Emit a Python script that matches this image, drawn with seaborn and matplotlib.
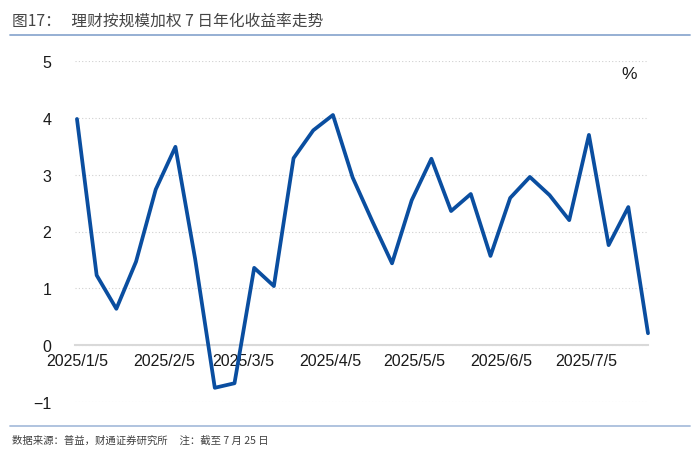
import numpy as np
import pandas as pd
import seaborn as sns
import matplotlib
matplotlib.use("Agg")
import matplotlib.pyplot as plt
from matplotlib.lines import Line2D

# weekly 7-day annualised yield (%), weighted by scale
start_date = "2025-01-05"
n_weeks = 30
yields = [3.98, 1.23, 0.64, 1.47, 2.74, 3.49, 1.52, -0.75, -0.67, 1.36,
          1.04, 3.29, 3.78, 4.05, 2.95, 2.18, 1.44, 2.55, 3.28, 2.36,
          2.66, 1.57, 2.59, 2.96, 2.64, 2.20, 3.70, 1.76, 2.43, 0.21]
tick_dates = ["2025-01-05", "2025-02-05", "2025-03-05", "2025-04-05",
              "2025-05-05", "2025-06-05", "2025-07-05"]
tick_labels = ["2025/1/5", "2025/2/5", "2025/3/5", "2025/4/5",
               "2025/5/5", "2025/6/5", "2025/7/5"]
y_ticks = [-1, 0, 1, 2, 3, 4, 5]

title = "图17：   理财按规模加权 7 日年化收益率走势"
source = "数据来源：普益，财通证券研究所     注：截至 7 月 25 日"

sns.set_style("white")
plt.rcParams['font.family'] = ['Liberation Sans', 'Noto Sans CJK SC', 'DejaVu Sans']
plt.rcParams['axes.unicode_minus'] = True

df = pd.DataFrame({
    "date": pd.date_range(start_date, periods=n_weeks, freq="7D"),
    "yield": yields,
})

fig = plt.figure(figsize=(7, 4.6), dpi=100)
ax = fig.add_axes([75 / 700, 1 - 403 / 460, (648 - 75) / 700, (403 - 62) / 460])

sns.lineplot(data=df, x="date", y="yield", color="#0A4EA0", linewidth=2.7, ax=ax)
for ln in ax.lines:
    ln.set_clip_on(False)
    ln.set_zorder(3)

ax.set_xlim(df["date"].iloc[0] - pd.Timedelta(days=0.7), df["date"].iloc[-1])
ax.set_ylim(-1, 5)
ax.set_yticks(y_ticks)
ax.set_yticklabels([str(v) if v >= 0 else "\u22121" for v in y_ticks])
ax.set_xticks(pd.to_datetime(tick_dates))
ax.set_xticklabels(tick_labels)
ax.set_xlabel("")
ax.set_ylabel("")

for s in ["top", "right", "left"]:
    ax.spines[s].set_visible(False)
ax.spines["bottom"].set_position(("data", 0))
ax.spines["bottom"].set_color("#D9D9D9")
ax.spines["bottom"].set_linewidth(1.5)
ax.spines["bottom"].set_zorder(1)

ax.yaxis.grid(True, linestyle=(0, (1, 2)), color="#D0D0D0", linewidth=0.8)
ax.set_axisbelow(True)
ax.tick_params(axis="x", direction="out", length=5, width=1.2, color="#D9D9D9",
               labelsize=11.5, labelcolor="#1a1a1a", pad=1)
ax.tick_params(axis="y", length=0, labelsize=11.5, labelcolor="#1a1a1a", pad=17)

ax.text(0.98, 0.985, "%", transform=ax.transAxes, ha="right", va="top",
        fontsize=12.5, color="#1a1a1a")

# header / footer decorations
fig.text(12 / 700, 1 - 21 / 460, title, ha="left", va="center", fontsize=11.3,
         color="#454545", family=['Noto Sans CJK SC', 'Liberation Sans'])
fig.add_artist(Line2D([10 / 700, 690 / 700], [1 - 36 / 460, 1 - 36 / 460],
                      color="#8EA9D0", linewidth=1.3))
fig.add_artist(Line2D([10 / 700, 690 / 700], [1 - 427 / 460, 1 - 427 / 460],
                      color="#A9BEDC", linewidth=1.3))
fig.text(12 / 700, 1 - 441 / 460, source, ha="left", va="center", fontsize=7.5,
         color="#404040", family=['Noto Sans CJK SC', 'Liberation Sans'])

fig.savefig("out.png", dpi=100)
